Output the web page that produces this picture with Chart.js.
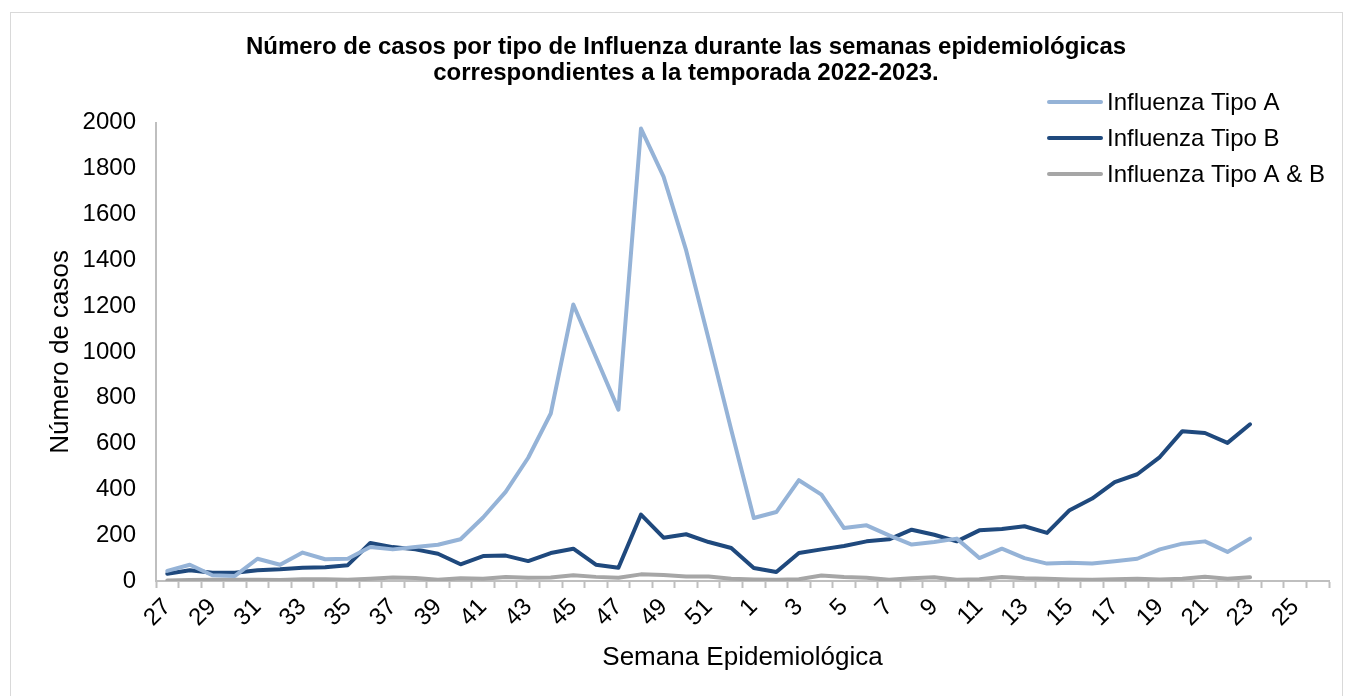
<!DOCTYPE html>
<html lang="es">
<head>
<meta charset="utf-8" />
<title>Influenza 2022-2023</title>
<script src="https://cdn.jsdelivr.net/npm/chart.js"></script>
<style>
    body { margin: 0; background: #ffffff; }
    #marco { position: absolute; left: 10px; top: 12px; width: 1331px; height: 700px; border: 1px solid #d9d9d9; }
    #grafico { position: absolute; left: 0; top: 0; }
</style>
</head>
<body>

<div id="marco"></div>
<canvas id="grafico" width="1351" height="696"></canvas>

<script>

// semanas epidemiológicas 27 (2022) a 26 (2023)
const semanas = ['27','28','29','30','31','32','33','34','35','36','37','38','39','40','41','42','43','44','45','46','47','48','49','50','51','52',
                 '1','2','3','4','5','6','7','8','9','10','11','12','13','14','15','16','17','18','19','20','21','22','23','24','25','26'];

const tipoA = [44, 71, 25, 22, 97, 71, 124, 95, 97, 148, 138, 148, 158, 182, 277, 389, 538, 731, 1207, 978, 748, 1975, 1765, 1444, 1055, 660,
               275, 301, 440, 377, 231, 243, 199, 159, 170, 185, 100, 141, 100, 76, 80, 76, 86, 97, 138, 163, 173, 127, 185, null, null, null];

const tipoB = [32, 47, 36, 36, 47, 51, 58, 60, 69, 166, 148, 138, 119, 73, 109, 111, 87, 122, 141, 71, 58, 290, 189, 204, 170, 144,
               57, 39, 122, 138, 153, 173, 182, 224, 202, 173, 221, 227, 239, 210, 309, 360, 432, 466, 541, 654, 646, 603, 684, null, null, null];

const tipoAB = [2, 4, 5, 5, 6, 4, 8, 8, 5, 10, 15, 13, 5, 12, 10, 17, 14, 15, 25, 18, 14, 29, 26, 20, 20, 10,
                7, 5, 8, 24, 17, 14, 5, 12, 16, 5, 8, 17, 12, 10, 7, 5, 8, 10, 7, 10, 19, 10, 16, null, null, null];

const fuente = '"Liberation Sans", Arial, sans-serif';

// leyenda arriba a la derecha, encima del área del gráfico
const leyendaArriba = {
    id: 'leyendaArriba',
    afterDraw(chart) {
        const ctx = chart.ctx;
        ctx.save();
        ctx.font = '24px ' + fuente;
        ctx.textBaseline = 'middle';
        chart.data.datasets.forEach((ds, i) => {
            const y = 102 + i * 36;
            ctx.strokeStyle = ds.borderColor;
            ctx.lineWidth = 4;
            ctx.lineCap = 'round';
            ctx.beginPath();
            ctx.moveTo(1049, y);
            ctx.lineTo(1101, y);
            ctx.stroke();
            ctx.fillStyle = '#000000';
            ctx.fillText(ds.label, 1107, y + 1);
        });
        ctx.restore();
    }
};

const serie = (label, data, color) => ({
    label: label,
    data: data,
    borderColor: color,
    backgroundColor: color,
    borderWidth: 4,
    pointRadius: 0,
    borderJoinStyle: 'round',
    borderCapStyle: 'round',
    tension: 0,
    fill: false
});

new Chart(document.getElementById('grafico'), {
    type: 'line',
    data: {
        labels: semanas,
        datasets: [
            serie('Influenza Tipo A', tipoA, '#95b3d7'),
            serie('Influenza Tipo B', tipoB, '#1f497d'),
            serie('Influenza Tipo A & B', tipoAB, '#a6a6a6')
        ]
    },
    options: {
        responsive: false,
        animation: false,
        layout: { padding: { left: 43, right: 22, top: 0, bottom: 0 } },
        plugins: {
            legend: { display: false },
            tooltip: { enabled: false },
            title: {
                display: true,
                text: ['Número de casos por tipo de Influenza durante las semanas epidemiológicas',
                       'correspondientes a la temporada 2022-2023.'],
                color: '#000000',
                font: { family: fuente, size: 24, weight: 'bold', lineHeight: 1.1 },
                padding: { top: 34, bottom: 36 }
            }
        },
        scales: {
            x: {
                offset: true,
                afterFit(scale) { scale.height = 115; },
                grid: {
                    offset: true,
                    drawOnChartArea: false,
                    drawTicks: true,
                    tickLength: 7,
                    tickWidth: 2,
                    tickColor: '#bfbfbf'
                },
                border: { display: true, color: '#bfbfbf', width: 2 },
                ticks: {
                    autoSkip: false,
                    minRotation: 45,
                    maxRotation: 45,
                    padding: 5,
                    color: '#000000',
                    font: { family: fuente, size: 24 },
                    callback: function (val, i) { return i % 2 === 0 ? this.getLabelForValue(val) : ''; }
                },
                title: {
                    display: true,
                    text: 'Semana Epidemiológica',
                    color: '#000000',
                    font: { family: fuente, size: 26 },
                    padding: { top: 0, bottom: 23 }
                }
            },
            y: {
                min: 0,
                max: 2000,
                afterFit(scale) { scale.width = 113; },
                grid: { display: true, drawOnChartArea: false, drawTicks: false },
                border: { display: true, color: '#bfbfbf', width: 2 },
                ticks: {
                    stepSize: 200,
                    padding: 20,
                    color: '#000000',
                    font: { family: fuente, size: 24 },
                    callback: (v) => String(v)
                },
                title: {
                    display: true,
                    text: 'Número de casos',
                    color: '#000000',
                    font: { family: fuente, size: 26, lineHeight: 1 },
                    padding: { top: 5, bottom: 0 }
                }
            }
        }
    },
    plugins: [leyendaArriba]
});

</script>
</body>
</html>
